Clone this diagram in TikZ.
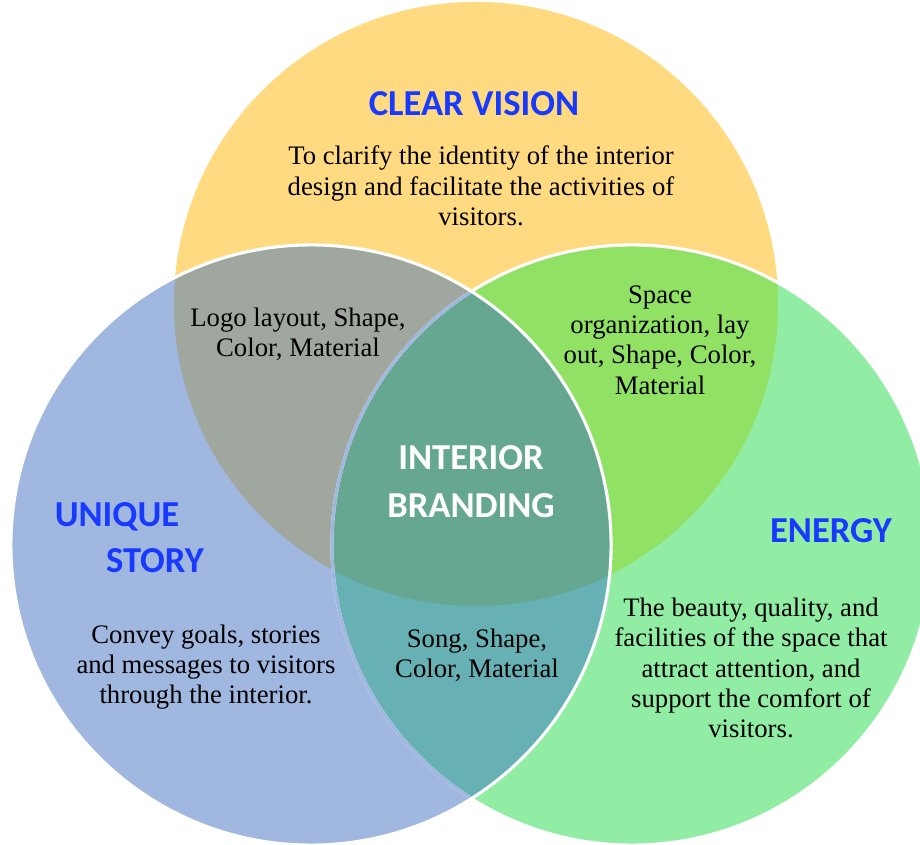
\documentclass[tikz,border=0pt]{standalone}
\usepackage{fontspec}
\setmainfont{Liberation Serif}
\newfontfamily\headfont{Carlito}

\definecolor{visionY}{RGB}{255,218,128}
\definecolor{storyB}{RGB}{160,183,224}
\definecolor{energyG}{RGB}{146,237,164}
\definecolor{ybMix}{RGB}{160,167,158}
\definecolor{ygMix}{RGB}{145,226,100}
\definecolor{bgMix}{RGB}{103,177,180}
\definecolor{coreMix}{RGB}{102,167,146}
\definecolor{headBlue}{RGB}{24,58,255}

\tikzset{
  head/.style={font=\headfont\bfseries\fontsize{26}{34}\selectfont, text=headBlue, align=center, inner sep=0pt},
  body/.style={font=\fontsize{19}{21.6}\selectfont, align=center, inner sep=0pt},
  rim/.style={white, line width=2.2pt}
}

\begin{document}
\begin{tikzpicture}[x=0.025cm,y=-0.025cm]
\useasboundingbox (0,0) rectangle (920,845);
\clip (0,0) rectangle (920,845);

\coordinate (yC) at (476,304);
\coordinate (bC) at (311,545);
\coordinate (gC) at (632,545);

\fill[visionY] (yC) circle[radius=7.55cm];
\fill[storyB] (bC) circle[radius=7.5cm];
\fill[energyG] (gC) circle[radius=7.5cm];
\begin{scope}
  \clip (yC) circle[radius=7.55cm];
  \fill[ybMix] (bC) circle[radius=7.5cm];
  \fill[ygMix] (gC) circle[radius=7.5cm];
\end{scope}
\begin{scope}
  \clip (bC) circle[radius=7.5cm];
  \fill[bgMix] (gC) circle[radius=7.5cm];
  \clip (yC) circle[radius=7.55cm];
  \fill[coreMix] (gC) circle[radius=7.5cm];
\end{scope}

\draw[rim] (gC) circle[radius=7.5cm];
\begin{scope}
  \clip (bC) circle[radius=7.5cm];
  \draw[rim, storyB] (gC) circle[radius=7.5cm];
\end{scope}
\draw[rim] (bC) circle[radius=7.5cm];

\node[head] (cV) at (474,104) {CLEAR VISION};
\node[body] (cVt) at (481,186) {To clarify the identity of the interior\\design and facilitate the activities of\\visitors.};
\node[body] (lS) at (298,334) {Logo layout, Shape,\\Color, Material};
\node[body] (sO) at (660,340) {Space\\organization, lay\\out, Shape, Color,\\Material};
\node[head, text=white] (iB) at (471,482) {INTERIOR\\BRANDING};
\node[head] (uS) at (117,517) {UNIQUE};
\node[head] (uSb) at (155,561) {STORY};
\node[head] (eN) at (831,531) {ENERGY};
\node[body] (uSt) at (206,667) {Convey goals, stories\\and messages to visitors\\through the interior.};
\node[body] (sS) at (477,655) {Song, Shape,\\Color, Material};
\node[body] (eNt) at (751,668) {The beauty, quality, and\\facilities of the space that\\attract attention, and\\support the comfort of\\visitors.};
\end{tikzpicture}
\end{document}
